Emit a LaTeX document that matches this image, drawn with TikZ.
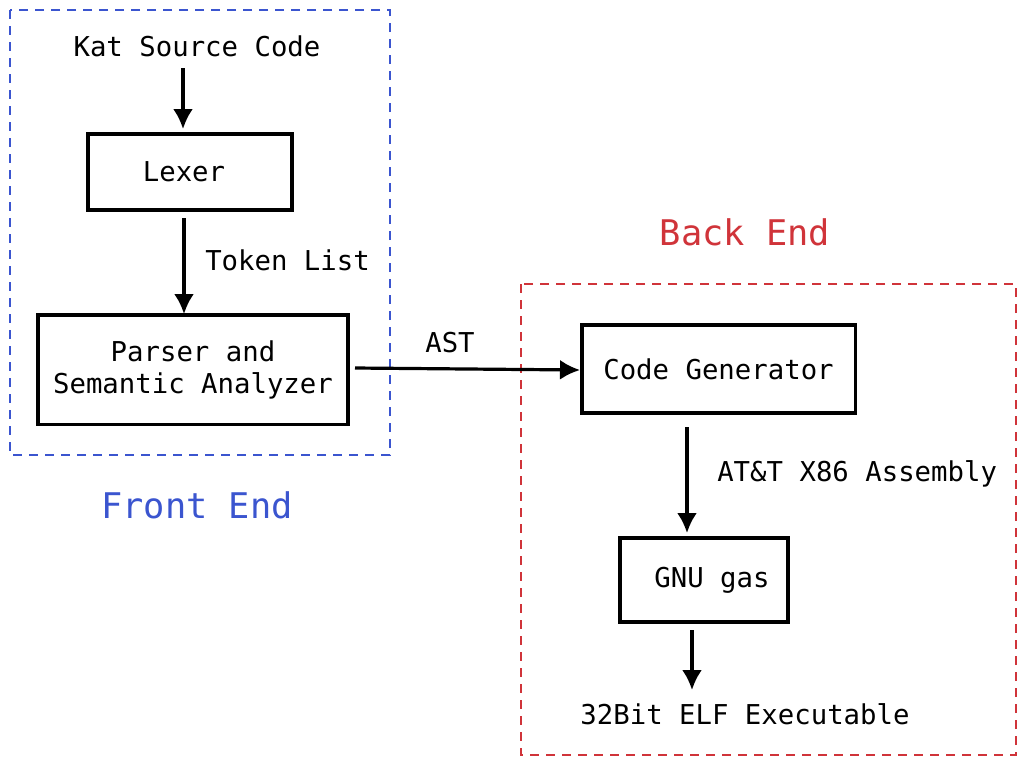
\documentclass[tikz,border=0pt]{standalone}
\usepackage{fontspec}
\setmonofont{DejaVu Sans Mono}
\usetikzlibrary{arrows.meta}
\definecolor{feblue}{HTML}{3B55CF}
\definecolor{bered}{HTML}{D0343A}
\tikzset{
  stagebox/.style={draw=black, line width=2.5pt, inner sep=0pt},
  lbl/.style={font=\ttfamily\fontsize{20.5}{24}\selectfont, inner sep=0pt},
  biglbl/.style={font=\ttfamily\fontsize{26.5}{30}\selectfont, inner sep=0pt},
  flow/.style={line width=2.4pt, -{Latex[length=15pt,width=15pt]}},
  group/.style={line width=2.1pt, dash pattern=on 7pt off 5pt},
}
\begin{document}
\begin{tikzpicture}[x=0.75pt,y=-0.75pt]
\useasboundingbox (0,0) rectangle (1025,765);
% groups
\draw[group, draw=feblue] (10,10) rectangle (390,455);
\draw[group, draw=bered] (521,284) rectangle (1016,755);
\node[biglbl, text=feblue] (fe) at (197,505) {Front End};
\node[biglbl, text=bered] (be) at (745,232) {Back End};
% front end
\node[lbl] (src) at (197,46) {Kat Source Code};
\node[stagebox, minimum width=153pt, minimum height=57pt, lbl] (lex) at (190,172) {\hspace*{-9pt}Lexer};
\node[stagebox, minimum width=232.5pt, minimum height=82pt, lbl, align=center] (par) at (193,369.5) {Parser and\\Semantic Analyzer};
% back end
\node[stagebox, minimum width=205pt, minimum height=66pt, lbl] (cg) at (718.5,369) {Code Generator};
\node[stagebox, minimum width=126pt, minimum height=63pt, lbl] (gas) at (704,580) {\hspace*{12pt}GNU gas};
\node[lbl] (elf) at (745,714) {32Bit ELF Executable};
% connector end points
\coordinate (a1s) at (183,68);
\coordinate (a1e) at (183,129);
\coordinate (a2s) at (184,218);
\coordinate (a2e) at (184,314);
\coordinate (a3s) at (355,368);
\coordinate (a3e) at (580,370);
\coordinate (a4s) at (687,427);
\coordinate (a4e) at (687,533);
\coordinate (a5s) at (692,630);
\coordinate (a5e) at (692,690);
% connectors
\draw[flow] (a1s) -- (a1e);
\draw[flow] (a2s) -- (a2e);
\draw[flow] (a3s) -- (a3e);
\draw[flow] (a4s) -- (a4e);
\draw[flow] (a5s) -- (a5e);
% connector labels
\node[lbl, anchor=west] (tok) at (205,260) {Token List};
\node[lbl] (ast) at (450,343) {AST};
\node[lbl, anchor=west] (asm) at (717,474) {AT\&T X86 Assembly};
\end{tikzpicture}
\end{document}
